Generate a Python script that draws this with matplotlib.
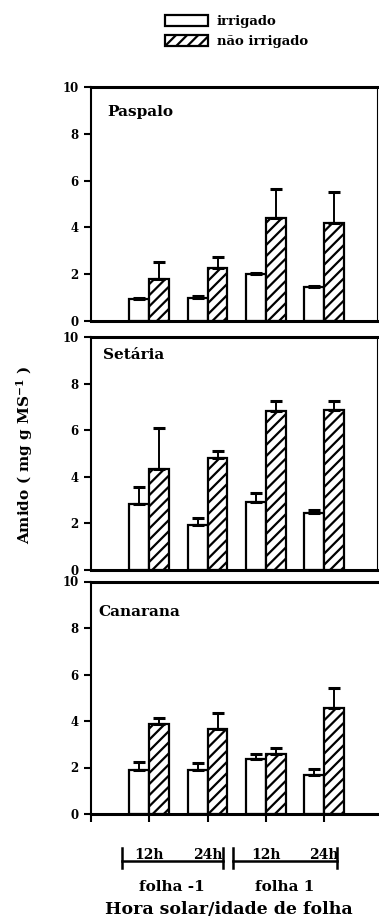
import matplotlib
matplotlib.use('Agg')
import matplotlib.pyplot as plt
from matplotlib.patches import Patch
import numpy as np

# ---- data ----
hours = ['12h', '24h', '12h', '24h']
leaves = ['folha -1', 'folha 1']
species = ['Paspalo', 'Setária', 'Canarana']
series_labels = ['irrigado', 'não irrigado']

paspalo_irr = [0.92, 1.00, 2.00, 1.45]
paspalo_irr_err = [0.05, 0.06, 0.07, 0.05]
paspalo_nao = [1.80, 2.25, 4.40, 4.20]
paspalo_nao_err = [0.70, 0.50, 1.25, 1.30]

setaria_irr = [2.83, 1.93, 2.92, 2.45]
setaria_irr_err = [0.73, 0.30, 0.38, 0.13]
setaria_nao = [4.33, 4.80, 6.82, 6.87]
setaria_nao_err = [1.77, 0.30, 0.43, 0.38]

canarana_irr = [1.89, 1.89, 2.37, 1.69]
canarana_irr_err = [0.35, 0.29, 0.23, 0.24]
canarana_nao = [3.87, 3.66, 2.58, 4.55]
canarana_nao_err = [0.26, 0.69, 0.26, 0.88]

yticks = [0, 2, 4, 6, 8, 10]

# ---- style ----
W, H = 379, 921
FONT = ['DejaVu Serif']
plt.rcParams['font.family'] = FONT
plt.rcParams['font.weight'] = 'bold'
plt.rcParams['mathtext.fontset'] = 'dejavuserif'
plt.rcParams['hatch.linewidth'] = 1.6
FS_TICK = 8.5
FS_TITLE = 11

fig = plt.figure(figsize=(W / 100, H / 100), dpi=100)

def fx(x):
    return x / W

def fy(y):
    return 1 - y / H

left_px, right_px = 91, 377
panels_px = [(87, 321), (337, 570), (581.5, 814)]
title_px = [(107, 112), (103, 355), (98, 612)]
data = [
    (paspalo_irr, paspalo_irr_err, paspalo_nao, paspalo_nao_err),
    (setaria_irr, setaria_irr_err, setaria_nao, setaria_nao_err),
    (canarana_irr, canarana_irr_err, canarana_nao, canarana_nao_err),
]
x = np.arange(1, len(hours) + 1)
bw = 0.34
axes = []
for i, ((top, bot), (irr, irr_e, nao, nao_e)) in enumerate(zip(panels_px, data)):
    last = (i == 2)
    rpx = W if last else right_px
    ax = fig.add_axes([fx(left_px), fy(bot), fx(rpx - left_px), (bot - top) / H])
    xmax = (rpx - left_px) / 58.3
    ax.set_xlim(0, xmax)
    ax.set_ylim(0, 10)
    ekw = dict(ecolor='black', elinewidth=1.4, capsize=4, capthick=2.2)
    ax.bar(x - bw / 2, irr, bw, color='white', edgecolor='black', linewidth=1.6,
           yerr=[np.zeros(len(irr)), irr_e], error_kw=ekw, zorder=2)
    ax.bar(x + bw / 2, nao, bw, color='white', edgecolor='black', linewidth=1.6,
           hatch='///', yerr=[np.zeros(len(nao)), nao_e], error_kw=ekw, zorder=2)
    ax.set_yticks(yticks)
    ax.set_yticklabels([str(t) for t in yticks], fontsize=FS_TICK, fontweight='bold')
    ax.tick_params(axis='y', direction='out', length=5, width=1.5, pad=4)
    if last:
        ax.set_xticks(list(range(0, len(hours) + 1)))
        ax.set_xticklabels([])
        ax.tick_params(axis='x', direction='out', length=6, width=1.5)
        ax.spines['right'].set_visible(False)
    else:
        ax.set_xticks([])
        ax.spines['right'].set_linewidth(0.8)
    ax.spines['left'].set_linewidth(1.5)
    ax.spines['bottom'].set_linewidth(2.2)
    ax.spines['top'].set_linewidth(2.2)
    tx, ty = title_px[i]
    fig.text(fx(tx), fy(ty), species[i], fontsize=FS_TITLE, fontweight='bold',
             va='center', ha='left')
    axes.append(ax)

# ---- legend ----
handles = [Patch(facecolor='white', edgecolor='black', linewidth=1.6),
           Patch(facecolor='white', edgecolor='black', linewidth=1.6, hatch='///')]
fig.legend(handles, series_labels, loc='upper left',
           bbox_to_anchor=(fx(160), fy(10)), frameon=False,
           prop={'family': FONT, 'weight': 'bold', 'size': 9.5},
           handlelength=3.2, handleheight=0.85, labelspacing=0.5, handletextpad=0.7,
           borderaxespad=0)

# ---- y label ----
fig.text(fx(25), fy(455), r'Amido ( mg g MS$^{\mathbf{-1}}$ )', rotation=90,
         ha='center', va='center', fontsize=11, fontweight='bold')

# ---- bottom annotation (brackets) ----
ax3 = axes[2]
tr = ax3.get_xaxis_transform()
def yax(ypx):
    return (814 - ypx) / (814 - 581.5)
brackets = [(0.53, 2.26), (2.44, 4.22)]
for (a, b), leaf, (h1, h2), (g1, g2) in zip(brackets, leaves,
                                            [hours[0:2], hours[2:4]],
                                            [(1, 2), (3, 4)]):
    ax3.plot([a, b], [yax(861)] * 2, color='black', lw=1.8, transform=tr, clip_on=False)
    for e in (a, b):
        ax3.plot([e, e], [yax(848), yax(868)], color='black', lw=1.8,
                 transform=tr, clip_on=False)
    ax3.text(g1, yax(862), h1, transform=tr, ha='center', va='bottom',
             fontsize=10, fontweight='bold')
    ax3.text(g2, yax(862), h2, transform=tr, ha='center', va='bottom',
             fontsize=10, fontweight='bold')
    ax3.text((a + b) / 2, yax(887), leaf, transform=tr, ha='center', va='center',
             fontsize=11, fontweight='bold')
fig.text(fx(229), fy(909), 'Hora solar/idade de folha', ha='center', va='center',
         fontsize=12.5, fontweight='bold')

fig.savefig('out.png', dpi=100)
